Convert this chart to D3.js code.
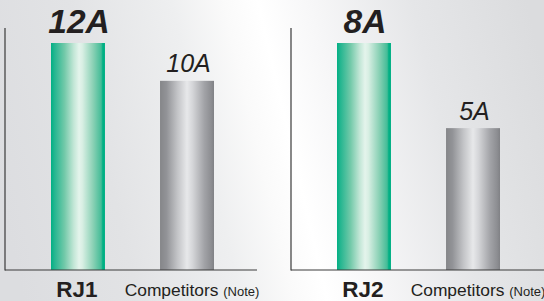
<!DOCTYPE html>
<html>
<head>
<meta charset="utf-8">
<script src="https://cdn.jsdelivr.net/npm/d3@7"></script>
<style>
  html, body { margin: 0; padding: 0; background: #e4e5e7; }
  svg { display: block; }
  text { font-family: "Liberation Sans", Arial, Helvetica, sans-serif; fill: #231f20; }
</style>
</head>
<body>
<svg id="chart" width="544" height="301"></svg>
<script>
// ---- data ----
const panelNames = ["RJ1", "RJ2"];
const categories1 = ["RJ1", "Competitors"];
const categories2 = ["RJ2", "Competitors"];
const values1 = [12, 10];
const values2 = [8, 5];
const valueLabels1 = ["12A", "10A"];
const valueLabels2 = ["8A", "5A"];
const noteLabel = "(Note)";

// ---- layout ----
const W = 544, H = 301;
const baseY = 270, topY = 43, axisTop = 28;
const panelDefs = [
  { cats: categories1, vals: values1, labels: valueLabels1, x0: 5, x1: 260, axisEnd: 257 },
  { cats: categories2, vals: values2, labels: valueLabels2, x0: 291, x1: 546, axisEnd: 544 }
];

const svg = d3.select("#chart");
const defs = svg.append("defs");

// background gradient
const bg = defs.append("linearGradient").attr("id", "bg")
  .attr("gradientUnits", "userSpaceOnUse")
  .attr("x1", 0).attr("y1", 200).attr("x2", 544).attr("y2", 73);
[[0, "#dcdde0"], [0.2, "#e2e3e5"], [0.38, "#eeeff0"], [0.47, "#fafafa"], [0.53, "#ffffff"],
 [0.62, "#f7f7f8"], [0.8, "#e5e6e8"], [1, "#dbdcde"]]
  .forEach(([o, c]) => bg.append("stop").attr("offset", o).attr("stop-color", c));

const gGreen = defs.append("linearGradient").attr("id", "green").attr("x1", 0).attr("x2", 1).attr("y1", 0).attr("y2", 0);
[[0, "#00b084"], [0.06, "#22b58f"], [0.25, "#72c9a9"], [0.42, "#c2e6d6"], [0.52, "#e4f4ec"],
 [0.58, "#d9efe4"], [0.78, "#8ad1b5"], [0.93, "#44bc97"], [0.96, "#00b084"], [1, "#00b084"]]
  .forEach(([o, c]) => gGreen.append("stop").attr("offset", o).attr("stop-color", c));

const gGrey = defs.append("linearGradient").attr("id", "grey").attr("x1", 0).attr("x2", 1).attr("y1", 0).attr("y2", 0);
[[0, "#858689"], [0.12, "#929397"], [0.32, "#c2c3c6"], [0.5, "#e7e8ea"], [0.6, "#d5d6d9"],
 [0.82, "#a2a3a7"], [0.95, "#8c8d91"], [1, "#808185"]]
  .forEach(([o, c]) => gGrey.append("stop").attr("offset", o).attr("stop-color", c));

svg.append("rect").attr("width", W).attr("height", H).attr("fill", "url(#bg)");

panelDefs.forEach((p, pi) => {
  const x = d3.scaleBand().domain(p.cats).range([p.x0, p.x1])
    .paddingInner(0.505).paddingOuter(0.422);
  const y = d3.scaleLinear().domain([0, d3.max(p.vals)]).range([baseY, topY]);
  const g = svg.append("g");

  const rows = p.cats.map((c, i) => ({ cat: c, val: p.vals[i], label: p.labels[i], i }));

  // bars
  g.selectAll("rect.bar").data(rows).join("rect")
    .attr("class", "bar")
    .attr("x", d => x(d.cat))
    .attr("width", x.bandwidth())
    .attr("y", d => y(d.val))
    .attr("height", d => y(0) - y(d.val))
    .attr("fill", d => d.i === 0 ? "url(#green)" : "url(#grey)");

  // axes
  g.append("line").attr("x1", p.x0).attr("x2", p.x0).attr("y1", axisTop).attr("y2", baseY + 0.5)
    .attr("stroke", "#3a3a3a").attr("stroke-width", 1.2);
  g.append("line").attr("x1", p.x0).attr("x2", p.axisEnd).attr("y1", baseY).attr("y2", baseY)
    .attr("stroke", "#3a3a3a").attr("stroke-width", 1.2);

  // value labels
  g.selectAll("text.val").data(rows).join("text")
    .attr("class", "val")
    .attr("x", d => x(d.cat) + x.bandwidth() / 2 + (d.i === 0 ? 1 : 1.5))
    .attr("y", d => y(d.val) - (d.i === 0 ? 10 : 8.5))
    .attr("text-anchor", "middle")
    .style("font-style", "italic")
    .style("font-weight", d => d.i === 0 ? "bold" : "normal")
    .style("font-size", d => d.i === 0 ? "33.5px" : "25px")
    .text(d => d.label);

  // category labels
  const first = rows[0];
  g.append("text")
    .attr("x", x(first.cat) + x.bandwidth() / 2 - 1)
    .attr("y", 297)
    .attr("text-anchor", "middle")
    .style("font-weight", "bold")
    .style("font-size", "22.5px")
    .text(first.cat);

  const second = rows[1];
  const t = g.append("text")
    .attr("x", x(second.cat) + x.bandwidth() / 2 + 5)
    .attr("y", 295.5)
    .attr("text-anchor", "middle")
    .style("font-size", "17.4px");
  t.append("tspan").text(second.cat + " ");
  t.append("tspan").style("font-size", "13px").text(noteLabel);
});
</script>
</body>
</html>
